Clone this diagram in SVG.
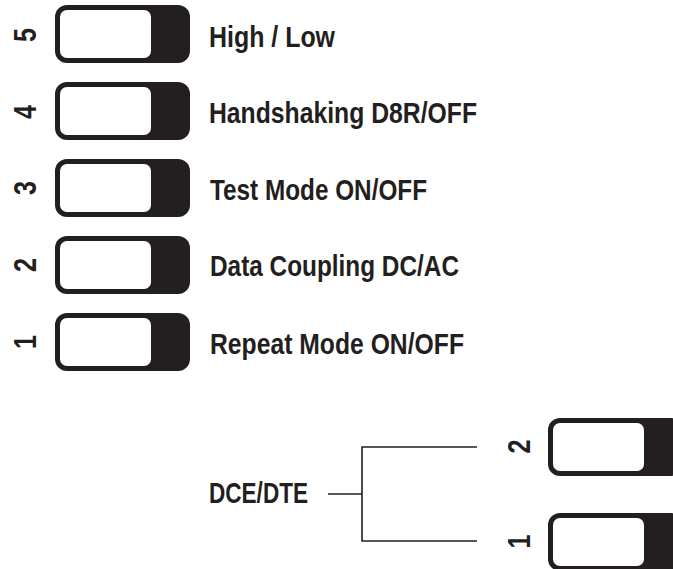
<svg xmlns="http://www.w3.org/2000/svg" width="673" height="569" viewBox="0 0 673 569">
<defs>
<style>
.lbl{font-family:"Liberation Sans Narrow","Liberation Sans",sans-serif;font-weight:bold;font-size:30px;fill:#231f20}
.num{font-family:"Liberation Sans Narrow","Liberation Sans",sans-serif;font-weight:bold;font-size:32px;fill:#231f20;text-anchor:middle}
.outer{fill:#231f20}
.inner{fill:#ffffff}
.wire{stroke:#231f20;stroke-width:1.6;fill:none}
</style>
<g id="sw">
<rect class="outer" x="0" y="0" width="135" height="58" rx="12"/>
<rect class="inner" x="5" y="5" width="91" height="48" rx="7"/>
</g>
</defs>
<rect width="673" height="569" fill="#ffffff"/>
<g id="switch5">
<use href="#sw" x="55" y="5"/>
<text class="num" transform="translate(36,35) rotate(-90)" textLength="14" lengthAdjust="spacingAndGlyphs">5</text>
<text class="lbl" x="209" y="47" textLength="126" lengthAdjust="spacingAndGlyphs">High / Low</text>
</g>
<g id="switch4">
<use href="#sw" x="55" y="82"/>
<text class="num" transform="translate(36,112) rotate(-90)" textLength="14" lengthAdjust="spacingAndGlyphs">4</text>
<text class="lbl" x="209" y="123" textLength="268" lengthAdjust="spacingAndGlyphs">Handshaking D8R/OFF</text>
</g>
<g id="switch3">
<use href="#sw" x="55" y="159"/>
<text class="num" transform="translate(36,188) rotate(-90)" textLength="14" lengthAdjust="spacingAndGlyphs">3</text>
<text class="lbl" x="210" y="200" textLength="217" lengthAdjust="spacingAndGlyphs">Test Mode ON/OFF</text>
</g>
<g id="switch2">
<use href="#sw" x="55" y="236"/>
<text class="num" transform="translate(36,265) rotate(-90)" textLength="14" lengthAdjust="spacingAndGlyphs">2</text>
<text class="lbl" x="210" y="276" textLength="249" lengthAdjust="spacingAndGlyphs">Data Coupling DC/AC</text>
</g>
<g id="switch1">
<use href="#sw" x="55" y="313"/>
<text class="num" transform="translate(36,342) rotate(-90)" textLength="14" lengthAdjust="spacingAndGlyphs">1</text>
<text class="lbl" x="210" y="354" textLength="254" lengthAdjust="spacingAndGlyphs">Repeat Mode ON/OFF</text>
</g>
<g id="dce">
<text class="lbl" x="209" y="503" textLength="99" lengthAdjust="spacingAndGlyphs">DCE/DTE</text>
</g>
<g id="dceSwitch2">
<use href="#sw" x="548" y="418"/>
<text class="num" transform="translate(530,446.5) rotate(-90)" textLength="14" lengthAdjust="spacingAndGlyphs">2</text>
</g>
<g id="dceSwitch1">
<use href="#sw" x="548" y="513"/>
<text class="num" transform="translate(530,541.5) rotate(-90)" textLength="14" lengthAdjust="spacingAndGlyphs">1</text>
</g>
<g id="connectors">
<path class="wire" d="M328 494H362M477 447H362V541H477"/>
</g>
</svg>
